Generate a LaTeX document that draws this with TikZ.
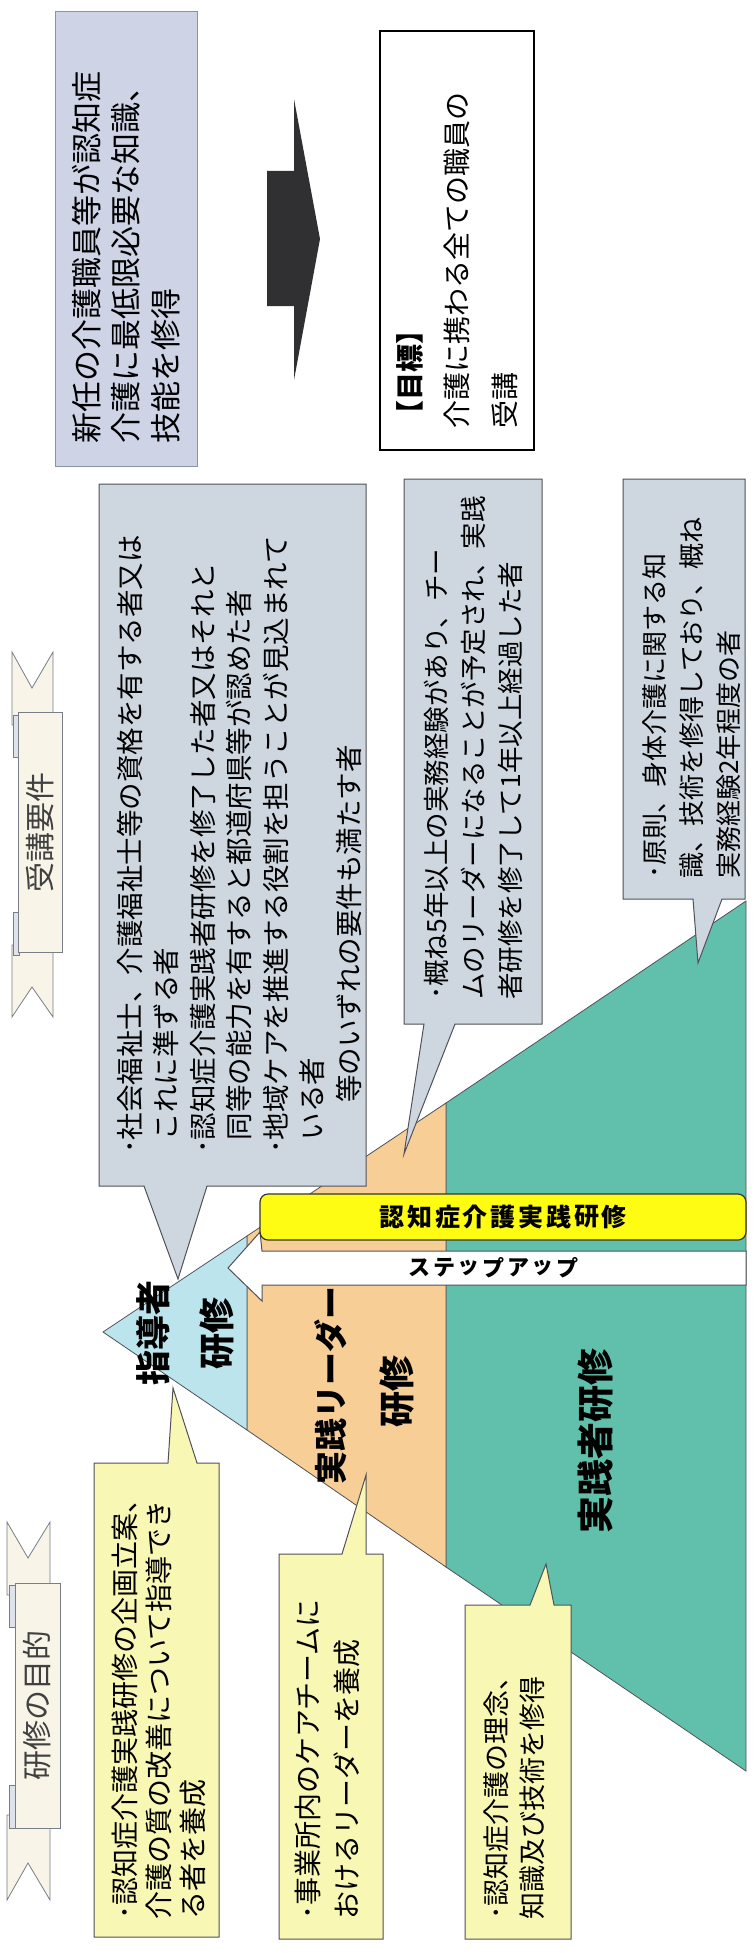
\documentclass[tikz,border=0pt]{standalone}
\usepackage{fontspec}
\setmainfont{Noto Sans CJK JP}
\usepackage{xcolor}
\usepackage{tikz}
\usetikzlibrary{positioning, calc}

\definecolor{topblue}{RGB}{206,212,230}
\definecolor{topedge}{RGB}{140,146,165}
\definecolor{arrowdark}{RGB}{48,48,50}
\definecolor{callgrey}{RGB}{206,214,224}
\definecolor{calledge}{RGB}{80,82,88}
\definecolor{memoyellow}{RGB}{249,247,180}
\definecolor{tipblue}{RGB}{188,228,236}
\definecolor{leadtan}{RGB}{247,206,150}
\definecolor{pracgreen}{RGB}{96,192,172}
\definecolor{bandyellow}{RGB}{255,252,20}
\definecolor{ribboncream}{RGB}{248,245,232}
\definecolor{ribbonfold}{RGB}{222,226,234}
\definecolor{ribbonedge}{RGB}{120,125,135}

\tikzstyle{topbox} = [rectangle, rotate=90, align=left, inner ysep=0pt, draw=topedge, line width=1pt, fill=topblue]
\tikzstyle{goalbox} = [rectangle, rotate=90, align=left, inner ysep=0pt, draw=black, line width=2pt, fill=white]
\tikzstyle{reqcall} = [fill=callgrey, draw=calledge, line width=1pt]
\tikzstyle{aimcall} = [fill=memoyellow, draw=calledge, line width=1pt]
\tikzstyle{calltext} = [rotate=90, anchor=west, align=left, inner sep=0pt]
\tikzstyle{tier} = [draw=calledge, line width=0.8pt]
\tikzstyle{tierlabel} = [rotate=90, inner sep=0pt]
\tikzstyle{band} = [rectangle, rounded corners=8pt, fill=bandyellow, draw=black!80, line width=1.2pt, inner sep=0pt]
\tikzstyle{bandchar} = [inner sep=0pt, font=\bfseries\fontsize{25}{25}\selectfont]
\tikzstyle{stepchar} = [inner sep=0pt, font=\bfseries\fontsize{22}{22}\selectfont]
\tikzstyle{banner} = [rectangle, rotate=90, fill=ribboncream, draw=ribbonedge, line width=0.8pt, inner sep=0pt, text=black!75, font=\fontsize{30}{30}\selectfont]
\tikzstyle{tail} = [fill=ribboncream, draw=ribbonedge, line width=0.8pt]
\tikzstyle{fold} = [fill=ribbonfold, draw=ribbonedge, line width=0.6pt]

\begin{document}
\begin{tikzpicture}[x=1pt, y=-1pt]
  \fill[white] (0,0) rectangle (755,1953);
  \useasboundingbox (0,0) rectangle (755,1953);
  % top boxes
    \node (newstaff) [topbox, minimum width=454, minimum height=142, text width=408, inner xsep=23, font=\fontsize{31}{39.5}\selectfont] at (126,239) {新任の介護職員等が認知症\\介護に最低限必要な知識、\\技能を修得};
    \node (goal) [goalbox, minimum width=419, minimum height=154, text width=375, inner xsep=22, font=\fontsize{28}{47.5}\selectfont] at (457,240.5) {{\bfseries 【目標】}\\介護に携わる全ての職員の\\受講};
    \fill[arrowdark] (267,171) -- (294,171) -- (294,99) -- (320,239) -- (294,380) -- (294,306) -- (267,306) -- cycle;
  % banners
    \filldraw[tail] (12,652) -- (32,688) -- (53,652) -- (53,725) -- (12,725) -- cycle;
    \filldraw[tail] (12,1017) -- (32,987) -- (53,1017) -- (53,945) -- (12,945) -- cycle;
    \filldraw[fold] (13,715) rectangle (19,757);
    \filldraw[fold] (13,912) rectangle (19,955);
    \node (reqbanner) [banner, minimum width=240, minimum height=44] at (40,832) {受講要件};
    \filldraw[tail] (7,1522) -- (28,1558) -- (50,1522) -- (50,1595) -- (7,1595) -- cycle;
    \filldraw[tail] (7,1900) -- (28,1863) -- (50,1900) -- (50,1815) -- (7,1815) -- cycle;
    \filldraw[fold] (9,1585) rectangle (15,1627);
    \filldraw[fold] (9,1785) rectangle (15,1828);
    \node (aimbanner) [banner, minimum width=245, minimum height=45] at (37.5,1705.5) {研修の目的};
  % pyramid
    \filldraw[tier, fill=pracgreen] (446,1103) -- (746,901) -- (746,1771) -- (446,1567) -- cycle;
    \filldraw[tier, fill=leadtan] (247,1236) -- (446,1103) -- (446,1567) -- (247,1430) -- cycle;
    \filldraw[tier, fill=tipblue] (103,1332) -- (247,1236) -- (247,1430) -- cycle;
  % requirement callouts
    \filldraw[reqcall] (99,484) -- (366,484) -- (366,1186) -- (207,1186) -- (178,1279) -- (144,1186) -- (99,1186) -- cycle;
    \filldraw[reqcall] (404,479) -- (542,479) -- (542,1024) -- (455,1024) -- (404,1154) -- (424,1024) -- (404,1024) -- cycle;
    \filldraw[reqcall] (623,479) -- (745,479) -- (745,899) -- (722,899) -- (698,963) -- (693,899) -- (623,899) -- cycle;
    \node (reqtip) [calltext, font=\fontsize{27.5}{36.5}\selectfont] at (239.5,1154) {･社会福祉士、介護福祉士等の資格を有する者又は\\\hspace*{0.5em}これに準ずる者\\･認知症介護実践者研修を修了した者又はそれと\\\hspace*{0.5em}同等の能力を有すると都道府県等が認めた者\\･地域ケアを推進する役割を担うことが見込まれて\\\hspace*{0.5em}いる者\\\hspace*{1.85em}等のいずれの要件も満たす者};
    \node (reqlead) [calltext, font=\fontsize{26.5}{37}\selectfont] at (473,1000) {･概ね5年以上の実務経験があり、チー\\ムのリーダーになることが予定され、実践\\者研修を修了して1年以上経過した者};
    \node (reqprac) [calltext, font=\fontsize{26}{37}\selectfont] at (692,879) {･原則、身体介護に関する知\\識、技術を修得しており、概ね\\実務経験2年程度の者};
  % aim callouts
    \filldraw[aimcall] (94,1463) -- (168,1463) -- (173,1388) -- (197,1463) -- (219,1463) -- (219,1937) -- (94,1937) -- cycle;
    \filldraw[aimcall] (279,1554) -- (342,1554) -- (366,1475) -- (366,1554) -- (383,1554) -- (383,1939) -- (279,1939) -- cycle;
    \filldraw[aimcall] (465,1605) -- (530,1605) -- (546,1564) -- (554,1605) -- (571,1605) -- (571,1939) -- (465,1939) -- cycle;
    \node (aimtip) [calltext, font=\fontsize{28}{34}\selectfont] at (159,1920) {･認知症介護実践研修の企画立案、\\介護の質の改善について指導でき\\る者を養成};
    \node (aimlead) [calltext, font=\fontsize{28}{39}\selectfont] at (327.5,1920) {･事業所内のケアチームに\\おけるリーダーを養成};
    \node (aimprac) [calltext, font=\fontsize{27}{36}\selectfont] at (514,1920) {･認知症介護の理念、\\知識及び技術を修得};
  % step up arrow and band
    \filldraw[fill=white, draw=calledge, line width=1pt] (228,1268) -- (260,1232) -- (262,1251) -- (746,1251) -- (746,1285) -- (262,1285) -- (262,1301) -- cycle;
    \foreach \ch [count=\i from 0] in {ス,テ,ッ,プ,ア,ッ,プ}
      \node (step\i) [stepchar] at ({419.4+24.7*\i},1268) {\ch};
    \node (band) [band, minimum width=486, minimum height=46] at (503,1217) {};
    \foreach \ch [count=\i from 0] in {認,知,症,介,護,実,践,研,修}
      \node (bandch\i) [bandchar] at ({391.9+27.8*\i},1217) {\ch};
  % tier labels
    \node (tiptitle) [tierlabel, font=\bfseries\fontsize{35}{35}\selectfont] at (153,1333) {指導者};
    \node (tipken) [tierlabel, font=\bfseries\fontsize{36}{36}\selectfont] at (217,1333) {研修};
    \node (leadtitle) [tierlabel, font=\bfseries\fontsize{33}{33}\selectfont] at (331,1385) {実践リーダー};
    \node (leadken) [tierlabel, font=\bfseries\fontsize{36}{36}\selectfont] at (397,1391) {研修};
    \node (practitle) [tierlabel, font=\bfseries\fontsize{37}{37}\selectfont] at (596,1441) {実践者研修};
\end{tikzpicture}
\end{document}
